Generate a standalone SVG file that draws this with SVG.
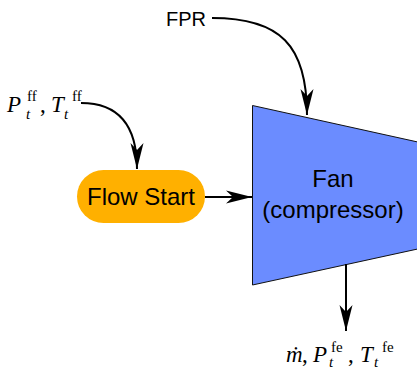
<svg xmlns="http://www.w3.org/2000/svg" width="417" height="369" viewBox="0 0 417 369">
  <style>
    .sans { font-family: "Liberation Sans", Arial, sans-serif; fill: #000; }
    .math { font-family: "Liberation Serif", "Times New Roman", serif; fill: #000; }
    .big { font-size: 23px; }
    .scr { font-size: 15px; }
    .it { font-style: italic; }
    .wire { fill: none; stroke: #000; stroke-width: 2; }
  </style>
  <defs>
    <marker id="dart" markerUnits="userSpaceOnUse" markerWidth="30" markerHeight="16" viewBox="-27 -8 30 16" refX="0" refY="0" orient="auto">
      <path d="M0,0 L-26,-6.5 L-19,0 L-26,6.5 Z" fill="#000"/>
    </marker>
  </defs>

  <g id="fan">
    <polygon points="252.5,105.5 420,142.5 420,248.5 252.5,285" fill="#6b8cff" stroke="#111" stroke-width="1"/>
    <text class="sans" x="333" y="187" font-size="24" text-anchor="middle">Fan</text>
    <text class="sans" x="333" y="218" font-size="24" text-anchor="middle">(compressor)</text>
  </g>

  <g id="flow-start">
    <rect x="77" y="170" width="128" height="53" rx="26.5" fill="#ffb000"/>
    <text class="sans" x="141" y="205" font-size="24" text-anchor="middle">Flow Start</text>
  </g>

  <g id="fpr">
    <text class="sans" x="166" y="26" font-size="20">FPR</text>
  </g>

  <g id="freestream">
    <text class="math it big" x="7" y="112">P</text>
    <text class="math scr" x="27" y="101">ff</text>
    <text class="math it scr" x="26" y="119">t</text>
    <text class="math big" x="40" y="112">,</text>
    <text class="math it big" x="51" y="112">T</text>
    <text class="math scr" x="72" y="101">ff</text>
    <text class="math it scr" x="64" y="119">t</text>
  </g>

  <g id="fan-exit">
    <text class="math it big" x="286" y="362">ṁ</text>
    <text class="math big" x="302" y="362">,</text>
    <text class="math it big" x="313" y="362">P</text>
    <text class="math scr" x="331" y="352">fe</text>
    <text class="math it scr" x="329" y="367">t</text>
    <text class="math big" x="348" y="362">,</text>
    <text class="math it big" x="360" y="362">T</text>
    <text class="math scr" x="382" y="352">fe</text>
    <text class="math it scr" x="374" y="367">t</text>
  </g>

  <g id="connectors">
    <path class="wire" d="M212,18 C280,18 307,45 307,115" marker-end="url(#dart)"/>
    <path class="wire" d="M81,103 C118,103 137,125 137,169" marker-end="url(#dart)"/>
    <path class="wire" d="M205,197 L252,197" marker-end="url(#dart)"/>
    <path class="wire" d="M346,264 L346,331" marker-end="url(#dart)"/>
  </g>
</svg>
